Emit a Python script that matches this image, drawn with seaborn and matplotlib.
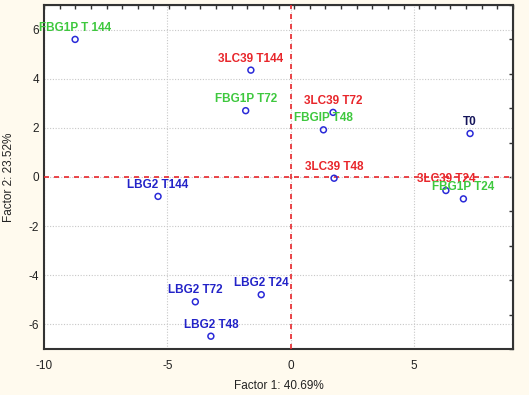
import numpy as np
import pandas as pd
import matplotlib
matplotlib.use("Agg")
import matplotlib.pyplot as plt
import seaborn as sns
from matplotlib.ticker import MultipleLocator

# scores
labels = ["FBG1P T 144", "3LC39 T144", "FBG1P T72", "3LC39 T72", "FBGIP T48", "T0",
          "LBG2 T144", "3LC39 T48", "3LC39 T24", "FBG1P T24",
          "LBG2 T24", "LBG2 T72", "LBG2 T48"]
factor1 = [-8.74, -1.62, -1.83, 1.71, 1.32, 7.26,
           -5.38, 1.75, 6.28, 6.99,
           -1.20, -3.87, -3.24]
factor2 = [5.60, 4.35, 2.70, 2.63, 1.92, 1.77,
           -0.79, -0.05, -0.55, -0.89,
           -4.79, -5.08, -6.48]
group = ["FBG1P", "3LC39", "FBG1P", "3LC39", "FBG1P", "T0",
         "LBG2", "3LC39", "3LC39", "FBG1P",
         "LBG2", "LBG2", "LBG2"]
group_colors = {"FBG1P": "#3ec83e", "3LC39": "#e8262b", "LBG2": "#2323c8", "T0": "#14145a"}

df = pd.DataFrame({"label": labels, "f1": factor1, "f2": factor2, "group": group})

sns.set_style("white")
plt.rcParams["font.family"] = ["Liberation Sans", "DejaVu Sans"]
plt.rcParams["axes.unicode_minus"] = False

fig = plt.figure(figsize=(5.29, 3.95), dpi=100)
fig.patch.set_facecolor("#fffaee")
ax = fig.add_axes([0.0832, 0.1165, 0.8866, 0.8708])
ax.set_facecolor("white")

sns.scatterplot(data=df, x="f1", y="f2", ax=ax, marker="o", s=18,
                facecolor="none", edgecolor="#2a2ad8", linewidth=1.1, zorder=4)

for _, r in df.iterrows():
    ax.annotate(r["label"], (r["f1"], r["f2"]), xytext=(0, 4), textcoords="offset points",
                ha="center", va="bottom", fontsize=8.5, fontweight="bold",
                color=group_colors[r["group"]], zorder=5)

ax.axvline(0, color="#e8262b", ls=(0, (3, 3)), lw=1.2, zorder=3)
ax.axhline(0, color="#e8262b", ls=(0, (3, 3)), lw=1.2, zorder=3)

ax.set_xlim(-10, 9)
ax.set_ylim(-7, 7)
ax.xaxis.set_major_locator(MultipleLocator(5))
ax.xaxis.set_minor_locator(MultipleLocator(1))
ax.yaxis.set_major_locator(MultipleLocator(2))
ax.yaxis.set_minor_locator(MultipleLocator(1))
ax.grid(True, which="major", color="#c8c8c8", ls=(0, (1, 1.5)), lw=0.8)
ax.tick_params(which="both", direction="in", color="#333333", labelsize=8.5, labelcolor="#222222")
ax.tick_params(which="major", length=4, width=1)
ax.tick_params(which="minor", length=3, width=1)
ax.tick_params(axis="x", pad=8)

for sp in ax.spines.values():
    sp.set_color("#333333")
    sp.set_linewidth(1.5)

top = ax.secondary_xaxis("top")
top.set_xticks(np.linspace(-10, 9, 31))
top.tick_params(direction="in", length=3, width=1, color="#333333", labeltop=False)
right = ax.secondary_yaxis("right")
right.set_yticks(np.linspace(-7, 7, 11))
right.tick_params(direction="in", length=3, width=1, color="#333333", labelright=False)

ax.set_xlabel("Factor 1: 40.69%", fontsize=8.5, color="#222222", labelpad=6)
ax.set_ylabel("Factor 2: 23.52%", fontsize=8.5, color="#222222", labelpad=10)

fig.savefig("out.png", dpi=100, facecolor=fig.get_facecolor())
